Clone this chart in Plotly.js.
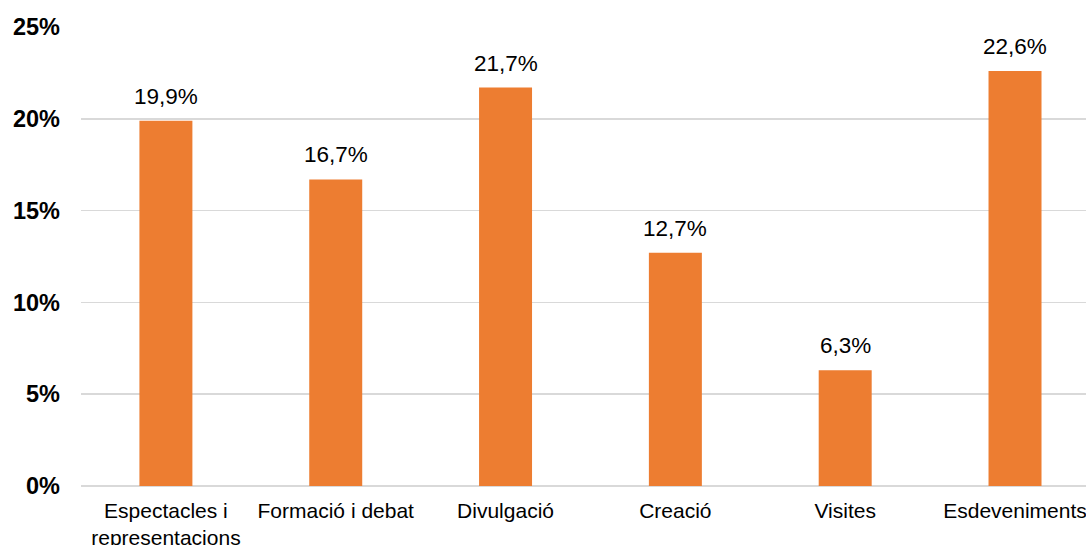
<!DOCTYPE html>
<html>
<head>
<meta charset="utf-8">
<script src="https://cdn.plot.ly/plotly-3.0.1.min.js"></script>
<style>
html,body{margin:0;padding:0;background:#fff;}
#chart{width:1086px;height:545px;}
</style>
</head>
<body>
<div id="chart"></div>
<script>
const categories = ["Espectacles i<br>representacions", "Formació i debat", "Divulgació", "Creació", "Visites", "Esdeveniments"];
const values = [19.9, 16.7, 21.7, 12.7, 6.3, 22.6];
const valueLabels = ["19,9%", "16,7%", "21,7%", "12,7%", "6,3%", "22,6%"];
const yTickValues = [0, 5, 10, 15, 20, 25];
const yTickLabels = ["0%", "5%", "10%", "15%", "20%", "25%"];

const FONT = "Arial, 'Liberation Sans', sans-serif";
const idx = categories.map((c, i) => i);

const trace = {
  type: "bar",
  x: idx,
  y: values,
  marker: {color: "#ED7D31"},
  hoverinfo: "none"
};

const annotations = values.map((v, i) => ({
  x: i, y: v, xref: "x", yref: "y",
  text: valueLabels[i],
  showarrow: false,
  yanchor: "bottom",
  yshift: 10,
  font: {family: FONT, size: 22.5, color: "#000"}
}));

const layout = {
  width: 1086, height: 545,
  margin: {l: 81, r: 0, t: 27, b: 59},
  paper_bgcolor: "#fff", plot_bgcolor: "#fff",
  showlegend: false,
  bargap: 0.688,
  xaxis: {
    range: [-0.5, 5.418],
    tickmode: "array", tickvals: idx, ticktext: categories,
    showgrid: false, zeroline: false, showline: false,
    ticks: "", ticklabelstandoff: 10,
    ticklabeloverflow: "allow",
    tickfont: {family: FONT, size: 21, color: "#000"},
    fixedrange: true
  },
  yaxis: {
    range: [0, 25],
    tickmode: "array", tickvals: yTickValues, ticktext: yTickLabels,
    showgrid: true, gridcolor: "#d9d9d9", gridwidth: 1.5,
    zeroline: true, zerolinecolor: "#d9d9d9", zerolinewidth: 1.5,
    showline: false, ticks: "", ticklabelstandoff: 20,
    tickfont: {family: FONT, size: 23.5, color: "#000", weight: "bold"},
    fixedrange: true
  },
  annotations: annotations
};

Plotly.newPlot("chart", [trace], layout, {displayModeBar: false, staticPlot: true});
</script>
</body>
</html>
